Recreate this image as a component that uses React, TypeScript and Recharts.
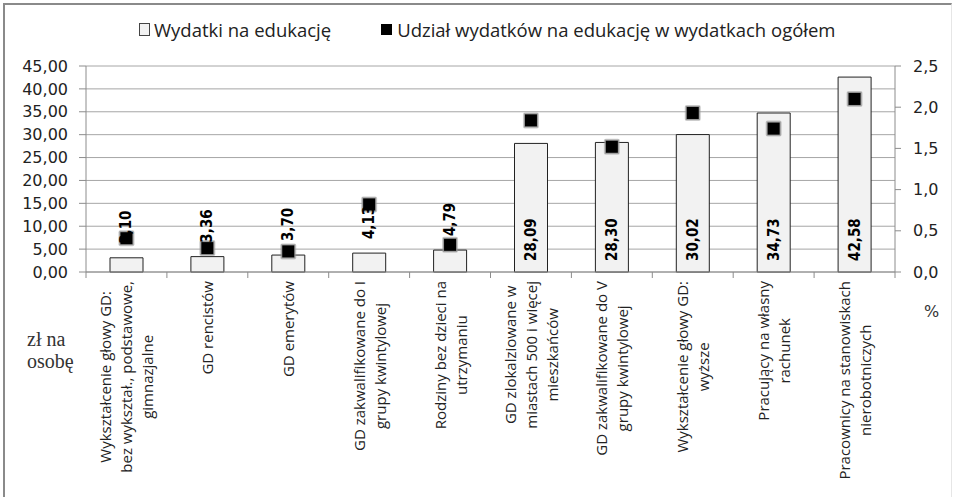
import React from 'react';
import { ComposedChart, Bar, Scatter, XAxis, YAxis, CartesianGrid, LabelList } from 'recharts';

const categoryLines: string[][] = [
  ['Wykształcenie głowy GD:', 'bez wykształ., podstawowe,', 'gimnazjalne'],
  ['GD rencistów'],
  ['GD emerytów'],
  ['GD zakwalifikowane do I', 'grupy kwintylowej'],
  ['Rodziny bez dzieci na', 'utrzymaniu'],
  ['GD zlokalziowane w', 'miastach 500 i więcej', 'mieszkańców'],
  ['GD zakwalifikowane do V', 'grupy kwintylowej'],
  ['Wykształcenie głowy GD:', 'wyższe'],
  ['Pracujący na własny', 'rachunek'],
  ['Pracownicy na stanowiskach', 'nierobotniczych'],
];
const expenditure = [3.1, 3.36, 3.7, 4.13, 4.79, 28.09, 28.3, 30.02, 34.73, 42.58];
const sharePct = [0.41, 0.29, 0.25, 0.82, 0.33, 1.84, 1.52, 1.93, 1.74, 2.1];
const leftTicks = [0, 5, 10, 15, 20, 25, 30, 35, 40, 45];
const rightTicks = [0, 0.5, 1, 1.5, 2, 2.5];
const legendLabels = ['Wydatki na edukację', 'Udział wydatków na edukację w wydatkach ogółem'];
const leftUnit = ['zł na', 'osobę'];
const rightUnit = '%';

const data = categoryLines.map((lines, i) => ({
  name: lines.join(' '),
  lines,
  amount: expenditure[i],
  share: sharePct[i],
}));

const W = 954;
const H = 497;
const LEFT_W = 86;
const RIGHT_W = 59;
const TOP = 66;
const XAXIS_H = 225;
const PLOT_W = W - LEFT_W - RIGHT_W;
const PLOT_H = H - TOP - XAXIS_H;
const AXIS_Y = TOP + PLOT_H;
const BAND = PLOT_W / data.length;

const CAT_SIZE = 15;
const CAT_FONT = `${CAT_SIZE}px "Open Sans"`;
const GRID = '#a6a6a6';
const AXIS = '#8c8c8c';

let canvasCtx: CanvasRenderingContext2D | null = null;
function measure(text: string, font: string): number {
  if (!canvasCtx) {
    const c = document.createElement('canvas');
    canvasCtx = c.getContext('2d');
  }
  if (!canvasCtx) return text.length * 7.5;
  canvasCtx.font = font;
  return canvasCtx.measureText(text).width;
}

const fmt = (digits: number) => (v: number) => v.toFixed(digits).replace('.', ',');

function CategoryTick(props: any) {
  const { x, payload, index } = props;
  const idx = payload?.index ?? index;
  const lines: string[] = data[idx]?.lines ?? [String(payload.value)];
  const top = AXIS_Y + 9;
  const maxW = Math.max(...lines.map((l) => measure(l, CAT_FONT)));
  const cy = top + maxW / 2;
  const lh = 21;
  const n = lines.length;
  const half = BAND / 2;
  const isLast = idx === data.length - 1;
  return (
    <g>
      <line x1={x - half} x2={x - half} y1={AXIS_Y} y2={AXIS_Y + 6} stroke={AXIS} />
      {isLast && <line x1={x + half} x2={x + half} y1={AXIS_Y} y2={AXIS_Y + 6} stroke={AXIS} />}
      {lines.map((l, i) => {
        const lx = x + (i - (n - 1) / 2) * lh;
        return (
          <text
            key={i}
            x={lx}
            y={cy}
            transform={`rotate(-90, ${lx}, ${cy})`}
            textAnchor="middle"
            dominantBaseline="central"
            fontFamily='"Open Sans"'
            fontSize={CAT_SIZE}
            fill="#222"
          >
            {l}
          </text>
        );
      })}
    </g>
  );
}

function BarValueLabel(props: any) {
  const { x, y, width, height, value } = props;
  const cx = x + width / 2;
  const inside = height > 60;
  const ty = inside ? y + height - 11 : y - 14;
  return (
    <text
      x={cx}
      y={ty}
      transform={`rotate(-90, ${cx}, ${ty})`}
      textAnchor="start"
      dominantBaseline="central"
      fontFamily='"DejaVu Sans Condensed", "DejaVu Sans"'
      fontWeight="bold"
      fontSize={15}
      fill="#000"
    >
      {fmt(2)(value)}
    </text>
  );
}

function SquareMarker(props: any) {
  const { cx, cy } = props;
  if (cx == null || cy == null) return null;
  return (
    <g>
      <rect x={cx - 8} y={cy - 8} width={16} height={16} fill="#9a9a9a" opacity={0.5} rx={2} />
      <rect x={cx - 7} y={cy - 7} width={14} height={14} fill="#8a8a8a" opacity={0.8} />
      <rect x={cx - 6} y={cy - 6} width={12} height={12} fill="#000" />
    </g>
  );
}

export default function App() {
  return (
    <div
      style={{
        position: 'absolute',
        left: 0,
        top: 0,
        width: W,
        height: H,
        background: '#fff',
        overflow: 'hidden',
      }}
    >
      <div
        style={{
          position: 'absolute',
          left: 3,
          top: 3,
          width: W - 5,
          height: H,
          borderTop: '2px solid #8a8a8a',
          borderLeft: '2px solid #8a8a8a',
          borderRight: '1px solid #e6e6e6',
          boxSizing: 'border-box',
        }}
      />
      <div
        style={{
          position: 'absolute',
          top: 17,
          left: 139,
          display: 'flex',
          alignItems: 'center',
          fontFamily: '"Open Sans"',
          fontSize: 18.5,
          color: '#222',
          whiteSpace: 'nowrap',
        }}
      >
        <span style={{ width: 9, height: 11, border: '1px solid #444', background: '#f2f2f2', marginRight: 4 }} />
        <span>{legendLabels[0]}</span>
        <span style={{ width: 11, height: 11, background: '#000', marginLeft: 50, marginRight: 5 }} />
        <span>{legendLabels[1]}</span>
      </div>
      <div
        style={{
          position: 'absolute',
          left: 27,
          top: 328,
          fontFamily: '"Liberation Serif", "Times New Roman", serif',
          fontSize: 20,
          lineHeight: '22px',
          color: '#333',
        }}
      >
        {leftUnit[0]}
        <br />
        {leftUnit[1]}
      </div>
      <div
        style={{
          position: 'absolute',
          left: 924,
          top: 302,
          fontFamily: '"DejaVu Sans"',
          fontSize: 16,
          color: '#333',
        }}
      >
        {rightUnit}
      </div>
      <div style={{ position: 'absolute', left: 0, top: 0 }}>
        <ComposedChart
          width={W}
          height={H}
          data={data}
          margin={{ top: TOP, right: 0, bottom: 0, left: 0 }}
          barCategoryGap={0}
        >
          <CartesianGrid yAxisId="left" vertical={false} stroke={GRID} strokeWidth={1} />
          <XAxis
            dataKey="name"
            interval={0}
            height={XAXIS_H}
            tickLine={false}
            tickSize={0}
            tickMargin={13}
            stroke={AXIS}
            tick={<CategoryTick />}
          />
          <YAxis
            yAxisId="left"
            orientation="left"
            width={LEFT_W}
            domain={[0, 45]}
            ticks={leftTicks}
            interval={0}
            tickFormatter={fmt(2)}
            tickSize={7}
            tickMargin={11}
            stroke={AXIS}
            tick={{ fill: '#222', fontSize: 16, fontFamily: '"DejaVu Sans"' }}
          />
          <YAxis
            yAxisId="right"
            orientation="right"
            width={RIGHT_W}
            domain={[0, 2.5]}
            ticks={rightTicks}
            interval={0}
            tickFormatter={fmt(1)}
            tickSize={6}
            tickMargin={12}
            stroke={AXIS}
            tick={{ fill: '#222', fontSize: 16, fontFamily: '"DejaVu Sans"' }}
          />
          <Bar
            yAxisId="left"
            dataKey="amount"
            barSize={33}
            fill="#f2f2f2"
            stroke="#222"
            strokeWidth={1}
            isAnimationActive={false}
          >
            <LabelList dataKey="amount" content={<BarValueLabel />} />
          </Bar>
          <Scatter
            yAxisId="right"
            dataKey="share"
            shape={<SquareMarker />}
            isAnimationActive={false}
          />
        </ComposedChart>
      </div>
    </div>
  );
}
